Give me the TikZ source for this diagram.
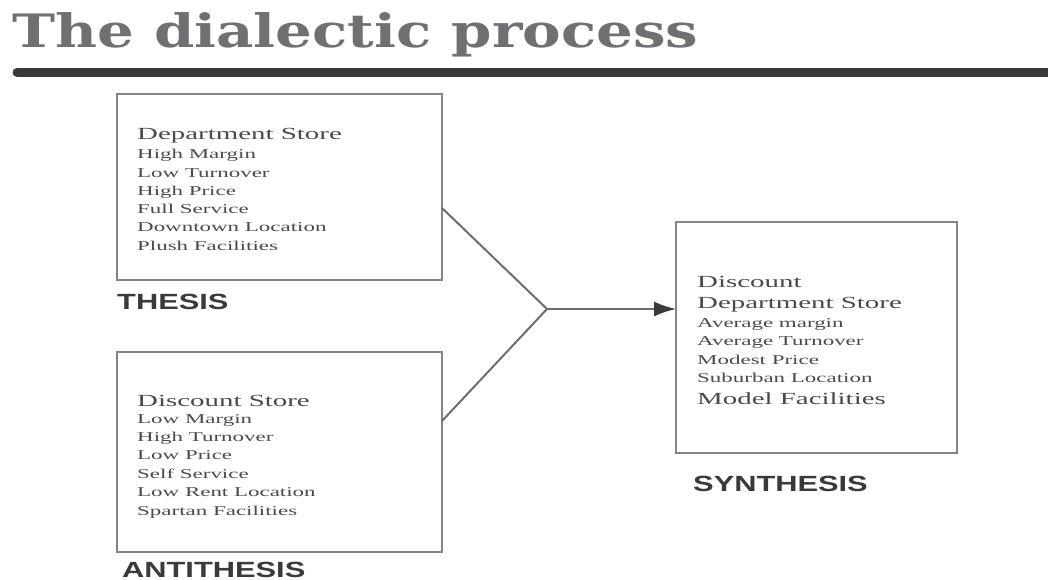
\documentclass[tikz,border=0pt]{standalone}
\usepackage{graphicx}
\usepackage{fontspec}
\setmainfont{Liberation Serif}
\newfontfamily\labelfont{Liberation Sans}
\newfontfamily\titlefont{DejaVu Serif}
\usetikzlibrary{arrows.meta}

\definecolor{titlegray}{HTML}{707074}
\definecolor{rulegray}{HTML}{3A3A3A}
\definecolor{boxgray}{HTML}{858585}
\definecolor{linegray}{HTML}{6E6E6E}
\definecolor{txtgray}{HTML}{4A4A4A}
\definecolor{tagcol}{HTML}{3A3A3A}

% horizontally widened text, as set in the boxes and labels
\newcommand\wide[1]{\scalebox{1.7}[1]{#1}}
\newcommand\widetag[1]{\scalebox{1.4}[1]{#1}}

\begin{document}
\begin{tikzpicture}[x=1pt,y=-1pt,
  frame/.style={draw=boxgray, line width=2pt, inner sep=0pt, outer sep=0pt, anchor=north west},
  head/.style={anchor=base west, inner sep=0pt, text=txtgray, font=\fontsize{17}{17}\selectfont},
  item/.style={anchor=base west, inner sep=0pt, text=txtgray, font=\fontsize{13.5}{13.5}\selectfont},
  tag/.style={anchor=base west, inner sep=0pt, text=tagcol, font=\labelfont\bfseries\fontsize{22}{22}\selectfont},
  link/.style={draw=linegray, line width=2pt},
]
\useasboundingbox (0,0) rectangle (1048,580);
\fill[white] (0,0) rectangle (1048,580);

% title and rule
\node[anchor=base west, inner sep=0pt, text=titlegray,
      font=\titlefont\bfseries\fontsize{46}{46}\selectfont] (title) at (12,48)
  {\resizebox{686pt}{\height}{The dialectic process}};
\coordinate (ruleL) at (17,72.5);
\coordinate (ruleR) at (1070,72.5);
\draw[rulegray, line width=9pt, line cap=round] (ruleL) -- (ruleR);

% the three boxes
\node[frame, minimum width=325pt, minimum height=186pt] (thesis) at (117,94) {};
\node[frame, minimum width=325pt, minimum height=200pt] (anti) at (117,352) {};
\node[frame, minimum width=281pt, minimum height=231pt] (synth) at (676,222) {};

% thesis contents
\node[head] (thH) at (137,140) {\wide{Department Store}};
\foreach \t [count=\i] in {High Margin, Low Turnover, High Price, Full Service, Downtown Location, Plush Facilities}
  \node[item] (th\i) at (137,{140.8+18.2*\i}) {\wide{\t}};
\node[tag] (thTag) at (117,309) {\widetag{THESIS}};

% antithesis contents
\node[head] (anH) at (137,406) {\wide{Discount Store}};
\foreach \t [count=\i] in {Low Margin, High Turnover, Low Price, Self Service, Low Rent Location, Spartan Facilities}
  \node[item] (an\i) at (137,{404.6+18.4*\i}) {\wide{\t}};
\node[tag] (anTag) at (122,577) {\widetag{ANTITHESIS}};

% synthesis contents
\node[head] (syH1) at (697,287) {\wide{Discount}};
\node[head] (syH2) at (697,308) {\wide{Department Store}};
\foreach \t [count=\i] in {Average margin, Average Turnover, Modest Price, Suburban Location}
  \node[item] (sy\i) at (697,{309.3+18.3*\i}) {\wide{\t}};
\node[head] (syH3) at (697,404) {\wide{Model Facilities}};
\node[tag] (syTag) at (693,491) {\widetag{SYNTHESIS}};

% converging lines and arrow
\coordinate (meet) at (547,309);
\draw[link] ([yshift=-21pt]thesis.east) -- (meet) -- ([yshift=31pt]anti.east);
\draw[link, -{Latex[length=22pt,width=15pt,color=rulegray]}]
  (meet) -- (synth.west |- meet);
\end{tikzpicture}
\end{document}
